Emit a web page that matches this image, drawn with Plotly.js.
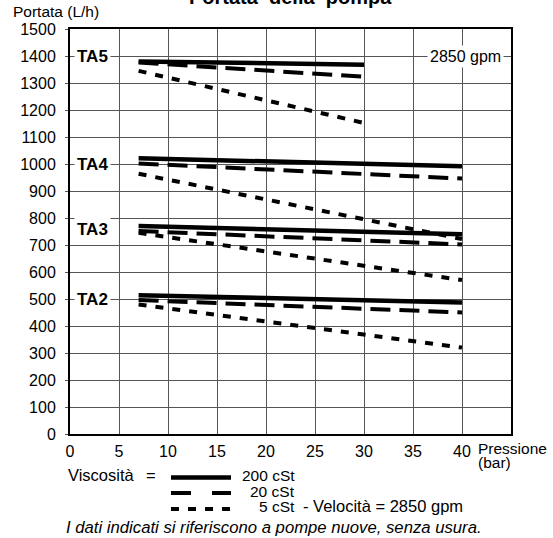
<!DOCTYPE html>
<html>
<head>
<meta charset="utf-8">
<script src="https://cdn.plot.ly/plotly-3.0.1.min.js"></script>
<style>html,body{margin:0;padding:0;background:#fff;}#chart{width:553px;height:538px;}</style>
</head>
<body>
<div id="chart"></div>
<script>
// ---- data ----
const pressureTA5 = [7, 30];
const pressureOthers = [7, 40];
const TA5_200 = [1380, 1368];
const TA5_20  = [1376, 1323];
const TA5_5   = [1345, 1152];
const TA4_200 = [1021, 992];
const TA4_20  = [1002, 946];
const TA4_5   = [964, 722];
const TA3_200 = [770, 740];
const TA3_20  = [752, 702];
const TA3_5   = [745, 570];
const TA2_200 = [514, 487];
const TA2_20  = [496, 450];
const TA2_5   = [480, 320];
const pumpLabels = ['TA5', 'TA4', 'TA3', 'TA2'];
const pumpLabelY = [1400, 1000, 757, 500];
const viscosityLabels = ['200 cSt', '20 cSt', '5 cSt'];
const xTicks = [0, 5, 10, 15, 20, 25, 30, 35, 40];
const yTicks = [0, 100, 200, 300, 400, 500, 600, 700, 800, 900, 1000, 1100, 1200, 1300, 1400, 1500];

// ---- geometry helpers ----
const W = 553, H = 538;
const M = {l: 70, r: 42, t: 29, b: 104};
const PW = W - M.l - M.r, PH = H - M.t - M.b;
const px = x => (x - M.l) / PW;
const py = y => (H - M.b - y) / PH;

const FONT = 'Liberation Sans, Arial, sans-serif';
const styles = [
  {width: 4.5, dash: 'solid'},
  {width: 4, dash: '20px,9px'},
  {width: 4, dash: '8px,9px'}
];

const series = [
  [pressureTA5, [TA5_200, TA5_20, TA5_5]],
  [pressureOthers, [TA4_200, TA4_20, TA4_5]],
  [pressureOthers, [TA3_200, TA3_20, TA3_5]],
  [pressureOthers, [TA2_200, TA2_20, TA2_5]]
];

const traces = [];
series.forEach((s, i) => {
  s[1].forEach((vals, j) => {
    traces.push({
      x: s[0], y: vals, type: 'scatter', mode: 'lines',
      name: pumpLabels[i] + ' ' + viscosityLabels[j],
      line: {color: '#000', width: styles[j].width, dash: styles[j].dash},
      showlegend: false, hoverinfo: 'skip'
    });
  });
});

const annotations = [];
function txt(text, x, y, opts) {
  annotations.push(Object.assign({
    text: text, xref: 'paper', yref: 'paper', x: px(x), y: py(y),
    showarrow: false, xanchor: 'left', yanchor: 'middle', borderpad: 0,
    font: {family: FONT, size: 16.5, color: '#000'}
  }, opts || {}));
}
// title (partly cut at top, as in the reference)
txt('<b>Portata  della  pompa</b>', 290, -3, {xanchor: 'center', font: {family: FONT, size: 20, color: '#000'}});
txt('Portata (L/h)', 12, 12, {font: {family: FONT, size: 15.5, color: '#000'}});
txt('Pressione', 477, 448, {font: {family: FONT, size: 15.5, color: '#000'}});
txt('(bar)', 477, 462, {font: {family: FONT, size: 15.5, color: '#000'}});
txt('Viscosità', 67, 475);
txt('=', 151, 475, {xanchor: 'center'});
const cStFont = {family: FONT, size: 15.5, color: '#000'};
txt(viscosityLabels[0], 296, 476, {xanchor: 'right', font: cStFont});
txt(viscosityLabels[1], 296, 491, {xanchor: 'right', font: cStFont});
txt(viscosityLabels[2], 296, 506, {xanchor: 'right', font: cStFont});
txt('- Velocità = 2850 gpm', 302, 506);
txt('<i>I dati indicati si riferiscono a pompe nuove, senza usura.</i>', 65, 527, {font: {family: FONT, size: 16.7, color: '#000'}});

pumpLabels.forEach((lab, i) => {
  annotations.push({
    text: '<b>' + lab + '</b>', xref: 'x', yref: 'y', x: 2.3, y: pumpLabelY[i],
    showarrow: false, xanchor: 'center', yanchor: 'middle', bgcolor: '#fff',
    borderpad: 2, font: {family: FONT, size: 17, color: '#000'}
  });
});
annotations.push({
  text: '2850 gpm', xref: 'x', yref: 'y', x: 40.4, y: 1400,
  showarrow: false, xanchor: 'center', yanchor: 'middle', bgcolor: '#fff',
  borderpad: 2, font: {family: FONT, size: 16, color: '#000'}
});

// legend samples
const shapes = [
  {y: 477.5, dash: 'solid', w: 4.5},
  {y: 493, dash: '20px,21px', w: 4},
  {y: 509, dash: '8px,9px', w: 4}
].map(s => ({
  type: 'line', xref: 'paper', yref: 'paper',
  x0: px(171), x1: px(231), y0: py(s.y), y1: py(s.y),
  line: {color: '#000', width: s.w, dash: s.dash}
}));

const layout = {
  width: W, height: H,
  margin: M,
  paper_bgcolor: '#fff', plot_bgcolor: '#fff',
  showlegend: false,
  xaxis: {
    range: [0, 45], tickvals: xTicks, ticktext: xTicks.map(String),
    showgrid: true, gridcolor: '#555', gridwidth: 1,
    showline: true, mirror: true, linecolor: '#000', linewidth: 2,
    zeroline: false, ticks: '', fixedrange: true, ticklabelstandoff: 2,
    tickfont: {family: FONT, size: 16, color: '#000'}
  },
  yaxis: {
    range: [0, 1500], tickvals: yTicks, ticktext: yTicks.map(String),
    showgrid: true, gridcolor: '#555', gridwidth: 1,
    showline: true, mirror: true, linecolor: '#000', linewidth: 2,
    zeroline: false, ticks: 'outside', ticklen: 3, tickcolor: '#555', fixedrange: true,
    ticklabelstandoff: 6,
    tickfont: {family: FONT, size: 16, color: '#000'}
  },
  annotations: annotations,
  shapes: shapes
};

Plotly.newPlot('chart', traces, layout, {displayModeBar: false, staticPlot: true});
</script>
</body>
</html>
